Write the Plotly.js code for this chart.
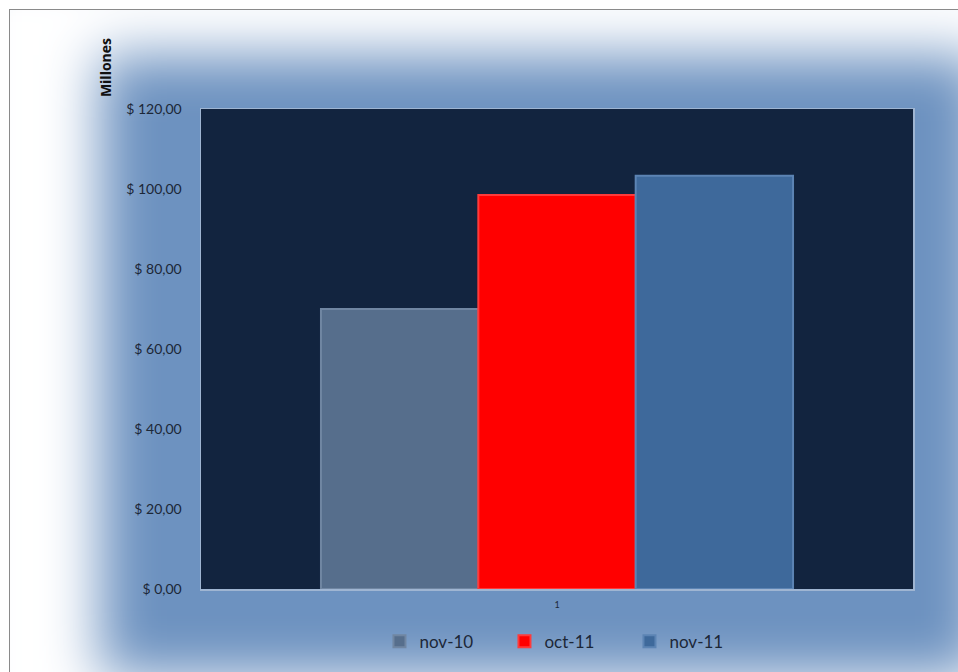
<!DOCTYPE html>
<html>
<head>
<meta charset="utf-8">
<script src="https://cdn.plot.ly/plotly-3.0.1.min.js"></script>
<style>
  html, body { margin:0; padding:0; background:#ffffff; width:958px; height:672px; overflow:hidden; }
  #frame {
    position:absolute; left:9px; top:9px; width:972px; height:712px;
    border:1px solid #8a8a8a;
    background:#6d92c0;
    box-shadow: inset 45px 0px 55px 45px #ffffff;
  }
  #chart { position:absolute; left:0; top:0; width:958px; height:672px; }
</style>
</head>
<body>
<div id="frame"></div>
<div id="chart"></div>
<script>
const categories = ['1'];
const seriesNames = ['nov-10', 'oct-11', 'nov-11'];
const seriesValues = [[70.0], [98.5], [103.3]];
const seriesColors = ['#566e8c', '#ff0000', '#3e699b'];
const seriesEdge = ['#7086a2', '#ff3a3a', '#5c84b4'];
const yTickVals = [0, 20, 40, 60, 80, 100, 120];
const yTickText = ['$ 0,00', '$ 20,00', '$ 40,00', '$ 60,00', '$ 80,00', '$ 100,00', '$ 120,00'];

const traces = seriesNames.map((name, i) => ({
  type: 'bar',
  name: name,
  x: categories,
  y: seriesValues[i],
  marker: { color: seriesColors[i], line: { color: seriesEdge[i], width: 2 } },
  hoverinfo: 'none'
}));

const layout = {
  width: 958, height: 672,
  margin: { l: 201, r: 45, t: 109, b: 80, pad: 0 },
  paper_bgcolor: 'rgba(0,0,0,0)',
  plot_bgcolor: '#12243f',
  font: { family: 'Lato, "Open Sans", sans-serif', color: '#1c2737' },
  barmode: 'group',
  bargap: 0.337,
  bargroupgap: 0,
  showlegend: true,
  legend: {
    orientation: 'h', x: 0.514, xanchor: 'center', y: -0.11, yanchor: 'middle',
    font: { size: 17, color: '#1c2737', family: 'Lato, "Open Sans", sans-serif' },
    entrywidth: 80, entrywidthmode: 'pixels',
    bgcolor: 'rgba(0,0,0,0)'
  },
  xaxis: {
    type: 'category',
    showline: true, linecolor: '#9fb5d2', linewidth: 1.5, mirror: true,
    showgrid: false, zeroline: false,
    ticks: 'outside', ticklen: 7, tickcolor: 'rgba(0,0,0,0)',
    tickfont: { size: 9, color: '#1c2737' }
  },
  yaxis: {
    range: [0, 120],
    tickvals: yTickVals, ticktext: yTickText,
    showline: true, linecolor: '#9fb5d2', linewidth: 1.5, mirror: true,
    showgrid: false, zeroline: false,
    ticks: 'outside', ticklen: 15, tickcolor: 'rgba(0,0,0,0)',
    tickfont: { size: 14, color: '#1c2737' }
  },
  annotations: [{
    text: '<b>Millones</b>', textangle: -90,
    xref: 'paper', yref: 'paper', x: -0.135, y: 1.087,
    xanchor: 'center', yanchor: 'middle', showarrow: false,
    font: { size: 14, color: '#111111', family: '"Open Sans", sans-serif' }
  }]
};

Plotly.newPlot('chart', traces, layout, { displayModeBar: false, staticPlot: true });
</script>
</body>
</html>
